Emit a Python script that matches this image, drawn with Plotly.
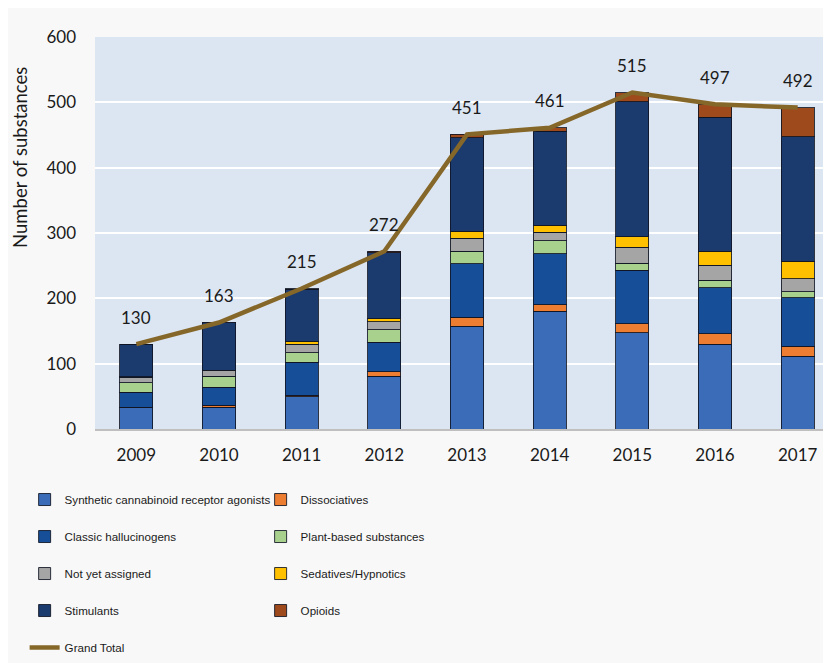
import plotly.graph_objects as go

years = ["2009", "2010", "2011", "2012", "2013", "2014", "2015", "2016", "2017"]

scra = [33, 33, 49, 81, 157, 180, 147, 130, 111]
dissociatives = [0, 3, 3, 7, 14, 10, 14, 16, 16]
classic = [23, 28, 50, 45, 82, 78, 82, 70, 74]
plant = [15, 17, 15, 19, 19, 20, 11, 12, 9]
not_assigned = [8, 8, 13, 12, 20, 13, 24, 23, 20]
sedatives = [1, 1, 4, 5, 11, 11, 16, 21, 27]
stimulants = [50, 73, 80, 101, 143, 144, 207, 205, 190]
opioids = [0, 0, 1, 2, 5, 5, 14, 20, 45]
grand_total = [130, 163, 215, 272, 451, 461, 515, 497, 492]

series = [
    ("Synthetic cannabinoid receptor agonists", scra, "#3b6cb7", "legend"),
    ("Dissociatives", dissociatives, "#ed7d31", "legend2"),
    ("Classic hallucinogens", classic, "#164f97", "legend"),
    ("Plant-based substances", plant, "#a9d18e", "legend2"),
    ("Not yet assigned", not_assigned, "#a5a5a5", "legend"),
    ("Sedatives/Hypnotics", sedatives, "#ffc000", "legend2"),
    ("Stimulants", stimulants, "#1b3a6e", "legend"),
    ("Opioids", opioids, "#9e4a1c", "legend2"),
]

fig = go.Figure()
for name, vals, color, lg in series:
    fig.add_trace(go.Bar(
        x=years, y=vals, name=name, legendgroup=name, legend=lg,
        marker=dict(color=color, line=dict(color="rgba(15,20,35,0.85)", width=1)),
    ))

fig.add_trace(go.Scatter(
    x=years, y=grand_total, name="Grand Total", legendgroup="Grand Total",
    legend="legend", mode="lines",
    line=dict(color="#86672a", width=4.5),
))

for i, t in enumerate(grand_total):
    fig.add_annotation(x=i, y=t, text=str(t), showarrow=False, yshift=27,
                       xanchor="center", yanchor="middle",
                       font=dict(family="Lato", size=17, color="#1a1a1a"))

fig.add_annotation(xref="paper", yref="paper", x=-0.1008, y=0.6916,
                   xanchor="center", yanchor="middle",
                   text="Number of substances", textangle=-90, showarrow=False,
                   font=dict(family="Lato", size=18.5, color="#1a1a1a"))

legend_font = dict(family="Liberation Sans, Arial, sans-serif",
                   size=11.6, color="#1a1a1a")
fig.update_layout(
    width=831, height=663,
    margin=dict(l=87, r=0, t=29, b=242, autoexpand=False),
    paper_bgcolor="#f8f8f8",
    plot_bgcolor="#dce6f2",
    barmode="stack",
    bargap=0.6,
    legend=dict(xref="container", yref="container", x=0.02, y=0.2805,
                xanchor="left", yanchor="top", orientation="v",
                traceorder="grouped", tracegroupgap=18,
                bgcolor="rgba(0,0,0,0)", font=legend_font),
    legend2=dict(xref="container", yref="container", x=0.304, y=0.2805,
                 xanchor="left", yanchor="top", orientation="v",
                 traceorder="grouped", tracegroupgap=18,
                 bgcolor="rgba(0,0,0,0)", font=legend_font),
    xaxis=dict(type="category", range=[-0.5, 8.5], showgrid=False,
               showline=True, linecolor="#bfbfbf", linewidth=2,
               tickfont=dict(family="Lato", size=17, color="#1a1a1a"),
               ticks="", ticklabelstandoff=10),
    yaxis=dict(range=[0, 600], dtick=100, gridcolor="#ffffff", gridwidth=1.5,
               zeroline=False, ticks="", ticklabelstandoff=18,
               tickfont=dict(family="Lato", size=17, color="#1a1a1a")),
)

fig.write_html("out.html")
